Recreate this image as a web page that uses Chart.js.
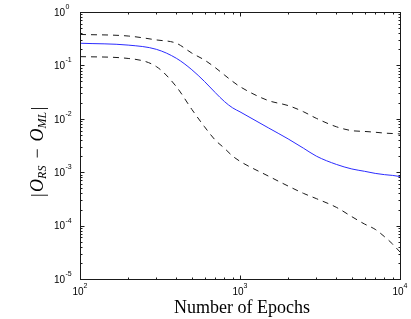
<!DOCTYPE html>
<html>
<head>
<meta charset="utf-8">
<script src="https://cdn.jsdelivr.net/npm/chart.js@4"></script>
<style>
  html, body { margin: 0; padding: 0; background: #fff; }
  #wrap { width: 411px; height: 319px; }
</style>
</head>
<body>
<div id="wrap"><canvas id="errChart" width="411" height="319"></canvas></div>
<script>
// data
const epochs = [100, 200, 300, 400, 500, 600, 700, 800, 900, 1000, 1500, 2000, 2500, 3000, 4000, 5000, 6000, 7000, 8000, 9000, 10000];
const medianErr = [0.26, 0.24, 0.20, 0.136, 0.083, 0.05, 0.031, 0.021, 0.016, 0.0135, 0.0068, 0.0042, 0.0028, 0.002, 0.0014, 0.00115, 0.00104, 0.00095, 0.0009, 0.00087, 0.00083];
const upperErr = [0.38, 0.355, 0.30, 0.26, 0.17, 0.126, 0.091, 0.066, 0.05, 0.04, 0.022, 0.0177, 0.0135, 0.0102, 0.0071, 0.006, 0.0058, 0.0056, 0.0054, 0.0053, 0.0052];
const lowerErr = [0.146, 0.135, 0.095, 0.04, 0.015, 0.0071, 0.004, 0.0028, 0.002, 0.0016, 0.00085, 0.00055, 0.0004, 0.00032, 0.00022, 0.000147, 0.000107, 0.000085, 0.000062, 0.000045, 0.000032];

const xDecades = [2, 3, 4];
const yDecades = [0, -1, -2, -3, -4, -5];
const xTitle = 'Number of Epochs';

const toPoints = (ys) => epochs.map((x, i) => ({ x: x, y: ys[i] }));

// frame, inward ticks, tick labels and axis titles
const axesPlugin = {
    id: 'matlabAxes',
    afterDraw(chart) {
        const ctx = chart.ctx;
        const xs = chart.scales.x;
        const ys = chart.scales.y;
        const a = chart.chartArea;
        const L = Math.round(a.left) + 0.5, R = Math.round(a.right) + 0.5;
        const T = Math.round(a.top) + 0.5, B = Math.round(a.bottom) + 0.5;

        ctx.save();
        ctx.strokeStyle = '#1a1a1a';
        ctx.lineWidth = 1;
        ctx.strokeRect(L, T, R - L, B - T);

        ctx.beginPath();
        // x ticks
        for (let d = xDecades[0]; d <= xDecades[xDecades.length - 1]; d++) {
            for (let m = 1; m <= 9; m++) {
                const v = m * Math.pow(10, d);
                if (v > Math.pow(10, xDecades[xDecades.length - 1])) break;
                const px = Math.round(xs.getPixelForValue(v)) + 0.5;
                const len = m === 1 ? 4 : 2;
                ctx.moveTo(px, B); ctx.lineTo(px, B - len);
                ctx.moveTo(px, T); ctx.lineTo(px, T + len);
            }
        }
        // y ticks
        for (let d = yDecades[yDecades.length - 1]; d <= yDecades[0]; d++) {
            for (let m = 1; m <= 9; m++) {
                const v = m * Math.pow(10, d);
                if (v > Math.pow(10, yDecades[0])) break;
                const py = Math.round(ys.getPixelForValue(v)) + 0.5;
                const len = m === 1 ? 4 : 2;
                ctx.moveTo(L, py); ctx.lineTo(L + len, py);
                ctx.moveTo(R, py); ctx.lineTo(R - len, py);
            }
        }
        ctx.stroke();

        // tick labels 10^n
        ctx.fillStyle = '#000';
        const baseFont = '10px "Liberation Sans", Arial, sans-serif';
        const expFont = '7px "Liberation Sans", Arial, sans-serif';
        ctx.textBaseline = 'middle';

        yDecades.forEach((d) => {
            const py = ys.getPixelForValue(Math.pow(10, d));
            const exp = d < 0 ? '-' + (-d) : String(d);
            ctx.font = baseFont;
            ctx.textAlign = 'right';
            const bx = a.left - 15;
            ctx.fillText('10', bx, py + 1);
            ctx.font = expFont;
            ctx.textAlign = 'left';
            ctx.fillText(exp, bx + 0.5, py - 5);
        });

        xDecades.forEach((d) => {
            const px = xs.getPixelForValue(Math.pow(10, d));
            const exp = String(d);
            ctx.font = baseFont;
            const bw = ctx.measureText('10').width;
            ctx.font = expFont;
            const ew = ctx.measureText(exp).width;
            const start = px - (bw + ew) / 2;
            ctx.textAlign = 'left';
            ctx.font = baseFont;
            ctx.fillText('10', start, a.bottom + 13);
            ctx.font = expFont;
            ctx.fillText(exp, start + bw, a.bottom + 7.5);
        });

        // x title
        ctx.font = '18px "Liberation Serif", "Times New Roman", serif';
        ctx.textAlign = 'center';
        ctx.textBaseline = 'alphabetic';
        ctx.fillText(xTitle, (a.left + a.right) / 2 + 2, 313);

        // y title |O_RS - O_ML| rotated
        ctx.translate(43, 197);
        ctx.rotate(-Math.PI / 2);
        ctx.textAlign = 'left';
        const big = '18px "Liberation Serif", "Times New Roman", serif';
        const bigIt = 'italic 18px "Liberation Serif", "Times New Roman", serif';
        const subIt = 'italic 12px "Liberation Serif", "Times New Roman", serif';
        const pieces = [
            { t: '|', f: big, dy: 1, gap: 1.5 },
            { t: 'O', f: bigIt, dy: 0, gap: 0 },
            { t: 'RS', f: subIt, dy: 3, gap: 7 },
            { t: '\u2212', f: big, dy: 0, gap: 7 },
            { t: 'O', f: bigIt, dy: 0, gap: 0 },
            { t: 'ML', f: subIt, dy: 3, gap: 1.5 },
            { t: '|', f: big, dy: 1, gap: 0 }
        ];
        let off = 0;
        pieces.forEach((p) => {
            ctx.font = p.f;
            ctx.fillText(p.t, off, p.dy);
            off += ctx.measureText(p.t).width + p.gap;
        });
        ctx.restore();
    }
};

new Chart(document.getElementById('errChart'), {
    type: 'line',
    data: {
        datasets: [
            {
                label: 'upper',
                data: toPoints(upperErr),
                borderColor: '#1a1a1a',
                borderWidth: 1,
                borderDash: [6, 5],
                pointRadius: 0,
                cubicInterpolationMode: 'monotone'
            },
            {
                label: 'median',
                data: toPoints(medianErr),
                borderColor: '#2b2bff',
                borderWidth: 1,
                pointRadius: 0,
                cubicInterpolationMode: 'monotone'
            },
            {
                label: 'lower',
                data: toPoints(lowerErr),
                borderColor: '#1a1a1a',
                borderWidth: 1,
                borderDash: [6, 5],
                pointRadius: 0,
                cubicInterpolationMode: 'monotone'
            }
        ]
    },
    options: {
        responsive: false,
        animation: false,
        devicePixelRatio: 1,
        layout: { padding: { left: 80, right: 11, top: 12, bottom: 40 } },
        plugins: {
            legend: { display: false },
            tooltip: { enabled: false }
        },
        scales: {
            x: { type: 'logarithmic', min: 100, max: 10000, display: false },
            y: { type: 'logarithmic', min: 1e-5, max: 1, display: false }
        }
    },
    plugins: [axesPlugin]
});
</script>
</body>
</html>
